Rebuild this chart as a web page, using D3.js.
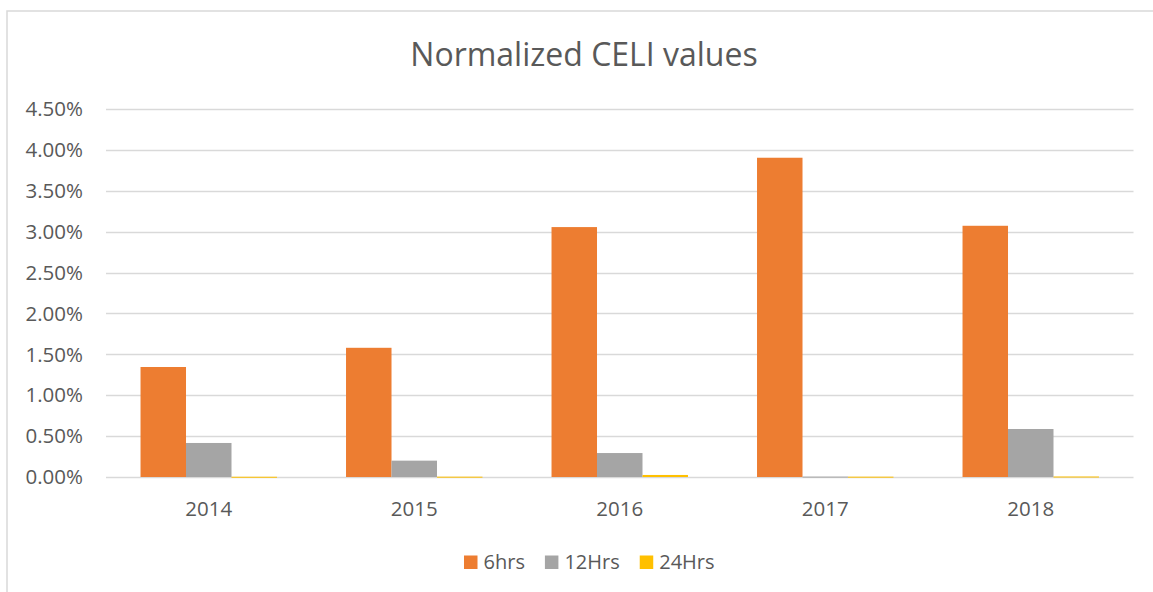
<!DOCTYPE html>
<html lang="en">
<head>
    <meta charset="UTF-8">
    <title>Normalized CELI values</title>
    <script src="https://d3js.org/d3.v7.min.js"></script>
</head>
<style>
    body {
        margin: 0;
        background: #fff;
    }

    svg {
        display: block;
        font-family: "Open Sans", sans-serif;
    }

    .grid line {
        stroke: #d9d9d9;
        stroke-width: 1.3px;
    }

    text {
        fill: #595959;
    }
</style>
<body>
<div class="chart"></div>
<script>
  /** data (fractions, shown as percent) */
  var years = ['2014', '2015', '2016', '2017', '2018'];
  var seriesNames = ['6hrs', '12Hrs', '24Hrs'];
  var hrs6 = [0.01345, 0.0158, 0.03056, 0.03904, 0.03072];
  var hrs12 = [0.00416, 0.00200, 0.00293, 0.00005, 0.00587];
  var hrs24 = [0.00003, 0.00004, 0.00025, 0.00004, 0.00006];
  var yTicks = [0, 0.005, 0.01, 0.015, 0.02, 0.025, 0.03, 0.035, 0.04, 0.045];

  var seriesValues = [hrs6, hrs12, hrs24];
  var colors = ['#ED7D31', '#A5A5A5', '#FFC000'];

  var width = 1153;
  var height = 592;

  var svg = d3.select('.chart')
    .append('svg')
    .attr('width', width)
    .attr('height', height);

  /** chart area border (runs off the right and bottom edge) */
  svg.append('rect')
    .attr('x', 7)
    .attr('y', 11)
    .attr('width', 1160)
    .attr('height', 600)
    .attr('fill', 'none')
    .attr('stroke', '#d9d9d9')
    .attr('stroke-width', 1.5);

  /** plot area */
  var plotLeft = 106, plotRight = 1133.5, plotTop = 109, plotBottom = 477;

  var x = d3.scaleBand()
    .domain(years)
    .range([plotLeft, plotRight])
    .paddingInner(0.336)
    .paddingOuter(0.168);

  var xInner = d3.scaleBand()
    .domain(seriesNames)
    .range([0, x.bandwidth()]);

  var y = d3.scaleLinear()
    .domain([0, 0.045])
    .range([plotBottom, plotTop]);

  /** gridlines */
  svg.append('g')
    .classed('grid', true)
    .selectAll('line')
    .data(yTicks)
    .enter().append('line')
    .attr('x1', plotLeft)
    .attr('x2', plotRight)
    .attr('y1', function (d) { return Math.round(y(d)) + 0.5; })
    .attr('y2', function (d) { return Math.round(y(d)) + 0.5; });

  /** y labels */
  var pct = d3.format('.2%');
  svg.append('g')
    .selectAll('text')
    .data(yTicks)
    .enter().append('text')
    .attr('x', 83)
    .attr('y', function (d) { return y(d); })
    .attr('dy', '.35em')
    .style('text-anchor', 'end')
    .style('font-size', '20.5px')
    .text(function (d) { return pct(d); });

  /** bars */
  var groups = svg.append('g')
    .selectAll('g')
    .data(years)
    .enter().append('g')
    .attr('transform', function (d) { return 'translate(' + x(d) + ',0)'; });

  groups.selectAll('rect')
    .data(function (d, i) {
      return seriesNames.map(function (s, j) {
        return { series: s, value: seriesValues[j][i], color: colors[j] };
      });
    })
    .enter().append('rect')
    .attr('x', function (d) { return xInner(d.series); })
    .attr('width', xInner.bandwidth())
    .attr('y', function (d) { return y(d.value); })
    .attr('height', function (d) { return Math.max(1, plotBottom - y(d.value)); })
    .attr('fill', function (d) { return d.color; });

  /** x labels */
  svg.append('g')
    .selectAll('text')
    .data(years)
    .enter().append('text')
    .attr('x', function (d) { return x(d) + x.bandwidth() / 2; })
    .attr('y', 516)
    .style('text-anchor', 'middle')
    .style('font-size', '20.5px')
    .text(function (d) { return d; });

  /** title */
  svg.append('text')
    .attr('x', 584)
    .attr('y', 66)
    .style('text-anchor', 'middle')
    .style('font-size', '32px')
    .text('Normalized CELI values');

  /** legend */
  var legend = svg.append('g');
  var legendX = 464;
  seriesNames.forEach(function (name, i) {
    legend.append('rect')
      .attr('x', legendX)
      .attr('y', 555.5)
      .attr('width', 13.5)
      .attr('height', 13.5)
      .attr('fill', colors[i]);
    var t = legend.append('text')
      .attr('x', legendX + 19.5)
      .attr('y', 569)
      .style('font-size', '20px')
      .text(name);
    legendX += 19.5 + t.node().getComputedTextLength() + 20;
  });
</script>
</body>
</html>
